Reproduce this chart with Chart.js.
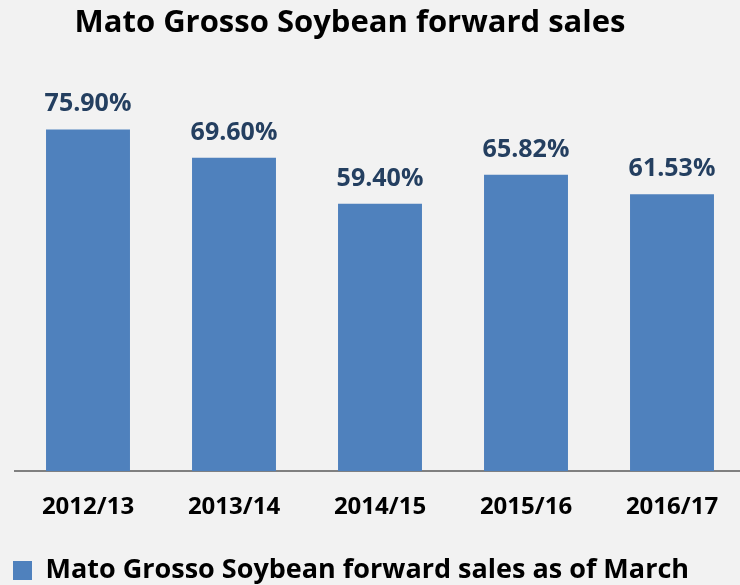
<!DOCTYPE html>
<html>
<head>
<meta charset="utf-8">
<script src="https://cdn.jsdelivr.net/npm/chart.js@4.4.1/dist/chart.umd.min.js"></script>
<style>
  html, body { margin: 0; padding: 0; background: #f2f2f2; overflow: hidden; }
  #wrap { width: 746px; height: 594px; position: relative; }
</style>
</head>
<body>
<div id="wrap"><canvas id="soyChart"></canvas></div>
<script>
const chartTitle = 'Mato Grosso Soybean forward sales';
const seasons = ['2012/13', '2013/14', '2014/15', '2015/16', '2016/17'];
const forwardSales = [75.90, 69.60, 59.40, 65.82, 61.53];
const seriesName = 'Mato Grosso Soybean forward sales as of March';

const FONT = '"Open Sans", sans-serif';

// value above each bar + title (title sits left of centre in the original)
const labelPlugin = {
  id: 'barLabels',
  afterDatasetsDraw(chart) {
    const ctx = chart.ctx;
    const meta = chart.getDatasetMeta(0);
    ctx.save();
    ctx.font = 'bold 25px ' + FONT;
    ctx.fillStyle = '#243f60';
    ctx.textAlign = 'center';
    ctx.textBaseline = 'alphabetic';
    meta.data.forEach((bar, i) => {
      ctx.fillText(forwardSales[i].toFixed(2) + '%', bar.x, bar.y - 18);
    });
    ctx.font = 'bold 31px ' + FONT;
    ctx.fillStyle = '#000';
    ctx.fillText(chartTitle, 350, 32);
    ctx.restore();
  }
};

const ctx = document.getElementById('soyChart');
new Chart(ctx, {
  type: 'bar',
  data: {
    labels: seasons,
    datasets: [{
      label: seriesName,
      data: forwardSales,
      backgroundColor: '#4f81bd',
      borderWidth: 0,
      categoryPercentage: 1,
      barPercentage: 0.575
    }]
  },
  options: {
    responsive: true,
    maintainAspectRatio: false,
    animation: false,
    layout: { padding: { top: 66, left: 0, right: 1, bottom: 0 } },
    scales: {
      x: {
        grid: { display: false, drawTicks: false },
        border: { color: '#808080', width: 2 },
        ticks: { color: '#000', font: { family: FONT, size: 24, weight: 'bold' }, padding: 22 }
      },
      y: {
        min: 0,
        max: 90,
        grid: { display: false, drawTicks: false },
        border: { display: false },
        ticks: { display: false },
        afterFit(scale) { scale.width = 15; }
      }
    },
    plugins: {
      legend: {
        position: 'bottom',
        align: 'start',
        labels: {
          boxWidth: 19,
          boxHeight: 19,
          padding: 13,
          color: '#000',
          font: { family: FONT, size: 27, weight: 'bold' }
        }
      },
      tooltip: { enabled: false }
    }
  },
  plugins: [labelPlugin]
});
</script>
</body>
</html>
